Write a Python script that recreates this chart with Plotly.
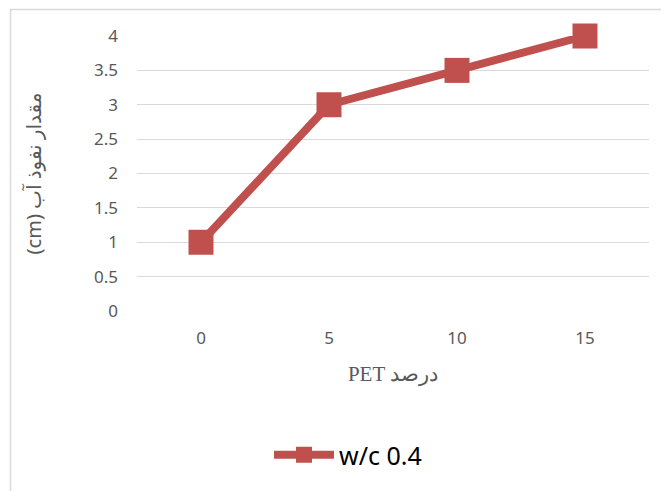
import plotly.graph_objects as go

categories = ["0", "5", "10", "15"]
values = [1, 3, 3.5, 4]
series_name = "w/c 0.4"
y_ticks = [0, 0.5, 1, 1.5, 2, 2.5, 3, 3.5, 4]
# logical order chosen so the LTR-rendered SVG shows the same visual order as the reference
y_title = "(cm) مقدار نفوذ آب"
x_title = "PET درصد"

color = "#C0504D"
OFF = 8  # page body margin
W, H = 669, 491
# target screen pixels of plot area: x 137..649, y 36..311
ml = 137 - OFF
mt = 36 - OFF
pw = 512
ph = 275
mr = W - ml - pw
mb = H - mt - ph

def px_x(p):
    return (p - OFF - ml) / pw

def px_y(p):
    return (mt + ph - (p - OFF)) / ph

fig = go.Figure()
fig.add_trace(go.Scatter(
    x=categories, y=values, name=series_name, mode="lines+markers",
    line=dict(color=color, width=8),
    marker=dict(symbol="square", size=25, color=color),
    cliponaxis=False,
))

fig.update_layout(
    width=W, height=H,
    margin=dict(l=ml, r=mr, t=mt, b=mb, autoexpand=False),
    paper_bgcolor="white", plot_bgcolor="white",
    font=dict(family="Noto Sans, Liberation Sans, sans-serif", color="#595959"),
    showlegend=True,
    legend=dict(orientation="h", x=px_x(348), xanchor="center", y=px_y(455), yanchor="middle",
                itemwidth=60,
                font=dict(size=25, color="#000000", family="Noto Sans, sans-serif")),
    xaxis=dict(type="category", range=[-0.5, 3.5], showgrid=False, zeroline=False,
               showline=False, ticks="", tickfont=dict(size=17, color="#595959"),
               ticklabelstandoff=15, automargin=False,
               title=dict(text=x_title, standoff=18,
                          font=dict(family="Liberation Serif, serif", size=21, color="#595959"))),
    yaxis=dict(range=[0, 4], tickvals=y_ticks, ticktext=[f"{v:g}" for v in y_ticks],
               showgrid=True, gridcolor="#D9D9D9", gridwidth=1, zeroline=False,
               showline=False, ticks="", tickfont=dict(size=17, color="#595959"),
               ticklabelstandoff=18, automargin=False,
               title=dict(text=y_title, standoff=46,
                          font=dict(size=20, color="#595959", family="Noto Sans, DejaVu Sans, sans-serif"))),
    shapes=[dict(type="rect", xref="paper", yref="paper",
                 x0=px_x(10.5), x1=px_x(680), y0=px_y(500), y1=px_y(9.5),
                 line=dict(color="#D9D9D9", width=1.5), fillcolor="rgba(0,0,0,0)", layer="below")],
)

fig.write_html("out.html")
